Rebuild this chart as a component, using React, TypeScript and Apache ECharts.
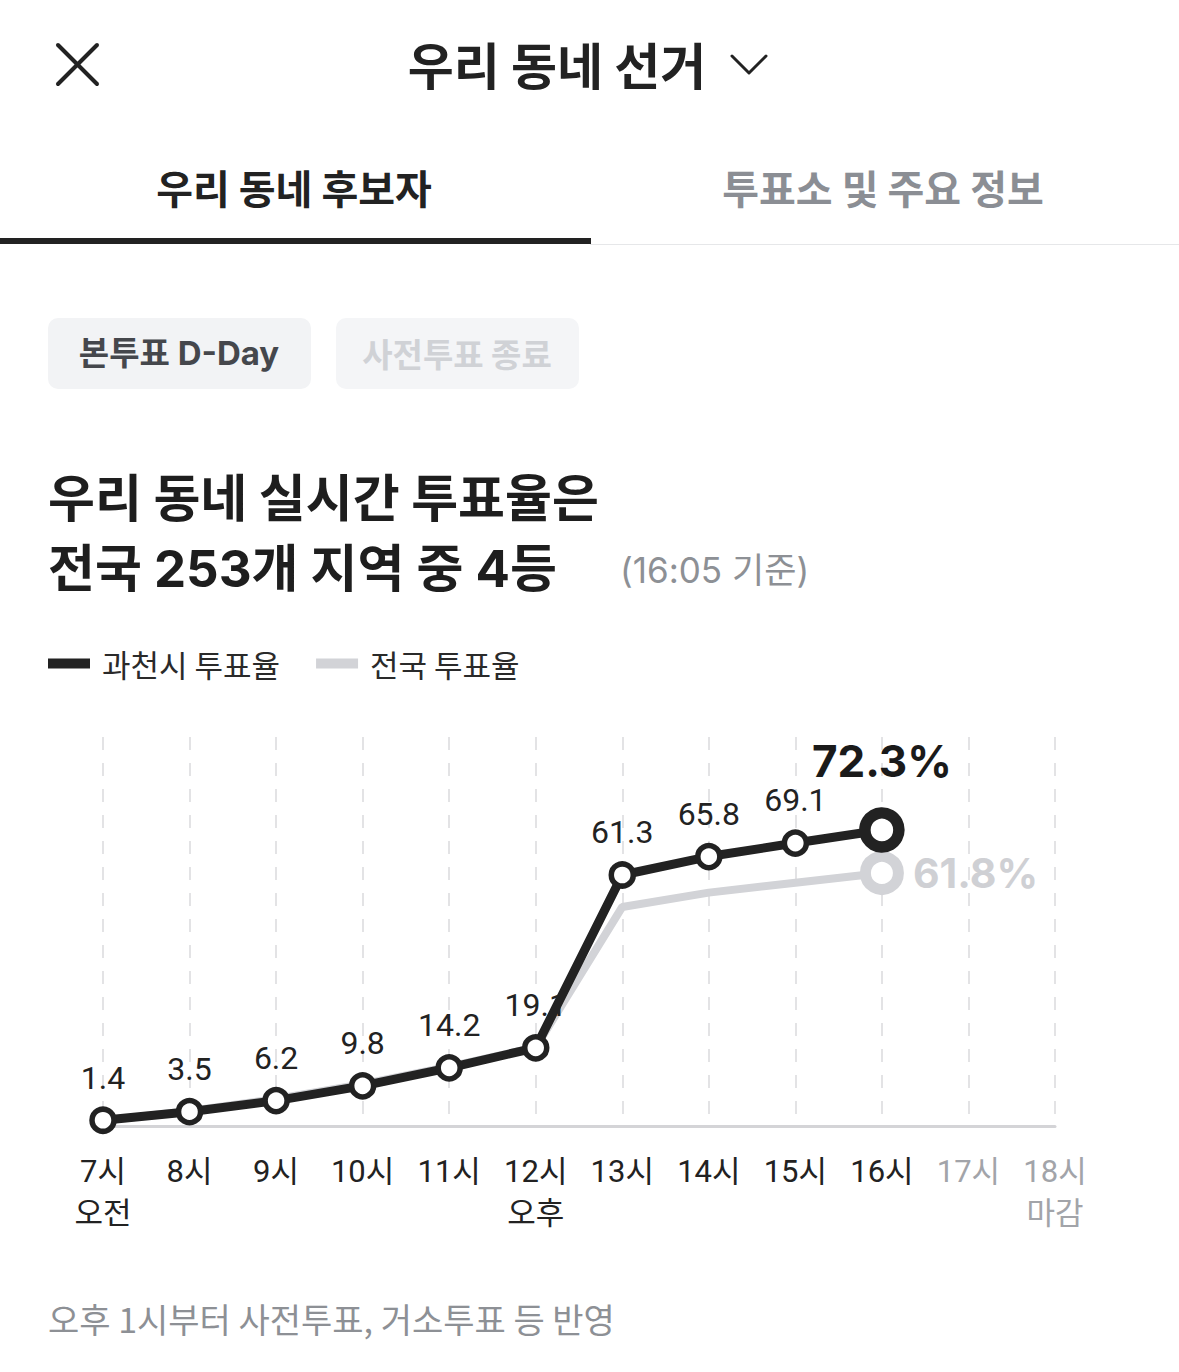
import React, { useEffect, useRef } from "react";
import * as echarts from "echarts";

// Hourly turnout (%) — Gwacheon vs. national
const hours = ["7시\n오전", "8시", "9시", "10시", "11시", "12시\n오후", "13시", "14시", "15시", "16시", "17시", "18시\n마감"];
const pendingHours = ["17시", "18시\n마감"];
const gwacheonRate = [1.4, 3.5, 6.2, 9.8, 14.2, 19.1, 61.3, 65.8, 69.1, 72.3];
const nationalRate = [1.3, 3.7, 6.6, 10.2, 14.5, 19.2, 53.5, 57.0, 59.4, 61.8];
const seriesNames = ["과천시 투표율", "전국 투표율"];
const yMax = 95;

const KR = "'Noto Sans CJK KR', sans-serif";
const NUM = "Inter, 'Noto Sans CJK KR', sans-serif";
const NUM_LABEL = "Roboto, 'Noto Sans CJK KR', sans-serif";

const DARK = "#222222";
const GRAY_TEXT = "#8d9095";
const NATIONAL = "#d2d3d7";

export default function App() {
  const ref = useRef<HTMLDivElement>(null);

  useEffect(() => {
    if (!ref.current) return;
    const chart = echarts.init(ref.current, undefined, { renderer: "svg" });
    const lastIdx = gwacheonRate.length - 1;

    const text = (t: string, x: number, y: number, size: number, fill: string, weight: any = "normal", family = KR, align = "left") => ({
      type: "text",
      x,
      y,
      style: { text: t, fontSize: size, fontWeight: weight, fill, fontFamily: family, align, verticalAlign: "middle" },
    });

    chart.setOption({
      animation: false,
      backgroundColor: "#ffffff",
      grid: { left: 103, right: 124, top: 737, bottom: 246 },
      legend: {
        left: 48,
        top: 648,
        padding: 0,
        icon: "rect",
        itemWidth: 42,
        itemHeight: 10,
        itemGap: 36,
        data: [
          { name: seriesNames[0], itemStyle: { color: DARK, borderWidth: 0 } },
          { name: seriesNames[1], itemStyle: { color: NATIONAL, borderWidth: 0 } },
        ],
        textStyle: { fontSize: 31, color: "#2a2a2a", fontFamily: KR, padding: [0, 0, 0, 7] },
      },
      xAxis: {
        type: "category",
        boundaryGap: false,
        data: hours.map((h) => (pendingHours.includes(h) ? { value: h, textStyle: { color: "#a2a4a9" } } : h)),
        axisLine: { lineStyle: { color: "#d4d4d7", width: 3 } },
        axisTick: { show: false },
        axisLabel: { interval: 0, color: DARK, fontSize: 31, lineHeight: 42, margin: 24, fontFamily: NUM_LABEL },
        splitLine: { show: true, lineStyle: { color: "#e3e3e5", width: 2, type: [13, 13] } },
      },
      yAxis: { type: "value", min: 0, max: yMax, show: false, splitLine: { show: false } },
      series: [
        {
          name: seriesNames[1],
          type: "line",
          z: 2,
          symbol: "circle",
          lineStyle: { color: NATIONAL, width: 8 },
          itemStyle: { color: NATIONAL },
          data: nationalRate.map((v, i) =>
            i === lastIdx
              ? {
                  value: v,
                  symbol: "circle",
                  symbolSize: 33,
                  itemStyle: { color: "#ffffff", borderColor: NATIONAL, borderWidth: 11 },
                  label: {
                    show: true,
                    position: "right",
                    distance: 9,
                    formatter: "{c}%",
                    fontSize: 41,
                    fontWeight: "bold",
                    color: "#cfd0d4",
                    fontFamily: NUM,
                  },
                }
              : { value: v, symbol: "none" }
          ),
        },
        {
          name: seriesNames[0],
          type: "line",
          z: 3,
          symbol: "circle",
          symbolSize: 22,
          showAllSymbol: true,
          lineStyle: { color: DARK, width: 9 },
          itemStyle: { color: "#ffffff", borderColor: DARK, borderWidth: 5.5 },
          label: { show: true, position: "top", distance: 13, fontSize: 32, color: DARK, fontFamily: NUM_LABEL },
          data: gwacheonRate.map((v, i) =>
            i === lastIdx
              ? {
                  value: v,
                  symbolSize: 34,
                  itemStyle: { borderWidth: 11.5 },
                  label: { formatter: "{c}%", fontSize: 44, fontWeight: "bold", distance: 24, color: "#1a1a1a", fontFamily: NUM },
                }
              : v
          ),
        },
      ],
      graphic: [
        // top bar
        { type: "line", shape: { x1: 58, y1: 45, x2: 97, y2: 84 }, style: { stroke: DARK, lineWidth: 4, lineCap: "round" } },
        { type: "line", shape: { x1: 97, y1: 45, x2: 58, y2: 84 }, style: { stroke: DARK, lineWidth: 4, lineCap: "round" } },
        text("우리 동네 선거", 557, 63, 50, DARK, "bold", KR, "center"),
        {
          type: "polyline",
          shape: { points: [[732, 56], [749, 73], [766, 56]] },
          style: { stroke: DARK, lineWidth: 3, fill: null, lineCap: "round", lineJoin: "round" },
        },
        // tabs
        text("우리 동네 후보자", 294, 187, 40, DARK, "bold", KR, "center"),
        text("투표소 및 주요 정보", 883, 187, 40, "#8b8e94", "bold", KR, "center"),
        { type: "rect", shape: { x: 590, y: 244, width: 589, height: 1 }, style: { fill: "#e6e7e9" } },
        { type: "rect", shape: { x: 0, y: 238, width: 591, height: 6 }, style: { fill: DARK } },
        // status chips
        { type: "rect", shape: { x: 48, y: 318, width: 263, height: 71, r: 10 }, style: { fill: "#f2f3f5" } },
        text("본투표 D-Day", 179, 353, 33, "#45474c", "bold", NUM, "center"),
        { type: "rect", shape: { x: 336, y: 318, width: 243, height: 71, r: 10 }, style: { fill: "#f4f5f7" } },
        text("사전투표 종료", 457, 353, 33, "#d0d2d6", "bold", KR, "center"),
        // headline
        text("우리 동네 실시간 투표율은", 48, 495, 51, "#1e1e1e", "bold"),
        text("전국 253개 지역 중 4등", 48, 568, 51, "#1e1e1e", "bold", NUM),
        text("(16:05 기준)", 620, 570, 35, GRAY_TEXT, "normal", NUM),
        // note
        text("오후 1시부터 사전투표, 거소투표 등 반영", 48, 1318, 34, GRAY_TEXT),
      ],
    });

    return () => chart.dispose();
  }, []);

  return <div ref={ref} style={{ position: "absolute", left: 0, top: 0, width: 1179, height: 1372, background: "#fff" }} />;
}
